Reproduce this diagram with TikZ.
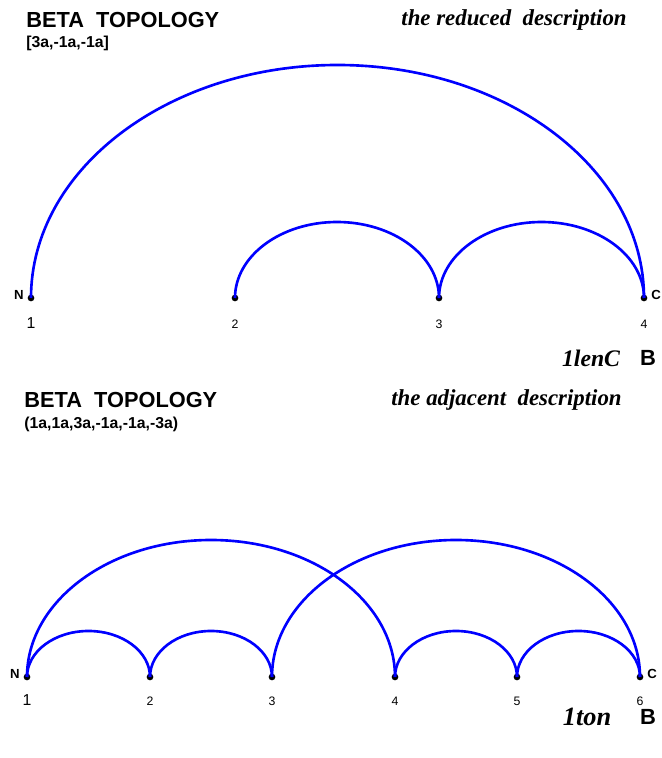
\documentclass[tikz,border=0pt]{standalone}
\usepackage{fontspec}
\setmainfont{Liberation Serif}
\setsansfont{Liberation Sans}
\usetikzlibrary{positioning}
\tikzset{
  res/.style={circle,fill=black,inner sep=0pt,minimum size=3.8pt},
  bond/.style={draw=blue,line width=1.5pt},
  term/.style={inner sep=0pt,font=\sffamily\bfseries\fontsize{7.5}{8}\selectfont},
  num/.style={inner sep=0pt,font=\sffamily\fontsize{7}{8}\selectfont},
  numone/.style={inner sep=0pt,font=\sffamily\fontsize{9}{10}\selectfont},
  title/.style={inner sep=0pt,anchor=west,font=\sffamily\bfseries\fontsize{12.4}{14}\selectfont},
  code/.style={inner sep=0pt,anchor=west,font=\sffamily\bfseries\fontsize{9}{10}\selectfont},
  desc/.style={inner sep=0pt,anchor=east,font=\rmfamily\bfseries\itshape\fontsize{13}{15}\selectfont},
  tag/.style={inner sep=0pt,font=\rmfamily\bfseries\itshape\fontsize{13.5}{15}\selectfont},
  cls/.style={inner sep=0pt,font=\sffamily\bfseries\fontsize{12.5}{14}\selectfont}
}
\begin{document}
\begin{tikzpicture}[x=0.02cm,y=0.02cm]
  \useasboundingbox (0,0) rectangle (662,758);

  \node[title] (t1) at (26,738) {BETA\ \ TOPOLOGY};
  \node[code] (s1) at (26,715) {[3a,-1a,-1a]};
  \node[desc] (d1) at (627,738) {the reduced\ \ description};

  \node[res] (a1) at (31,460) {};
  \node[res] (a2) at (235,460) {};
  \node[res] (a3) at (439,460) {};
  \node[res] (a4) at (644,460) {};

  \node[term, left=2.5pt of a1.north west] (an) {N};
  \node[term, right=2.5pt of a4.north east] (ac) {C};
  \node[numone, below=9pt of a1] (al1) {1};
  \node[num, below=10pt of a2] (al2) {2};
  \node[num, below=10pt of a3] (al3) {3};
  \node[num, below=10pt of a4] (al4) {4};

  \draw[bond] (a1.center) arc[start angle=180,end angle=0,x radius=306.5,y radius=233];
  \draw[bond] (a2.center) arc[start angle=180,end angle=0,x radius=102,y radius=76];
  \draw[bond] (a3.center) arc[start angle=180,end angle=0,x radius=102.5,y radius=76];

  \node[cls] (b1) at (648,400) {B};
  \node[tag, left=11pt of b1] (n1) {1lenC};

  \node[title] (t2) at (24,358) {BETA\ \ TOPOLOGY};
  \node[code] (s2) at (24,334) {(1a,1a,3a,-1a,-1a,-3a)};
  \node[desc] (d2) at (622,358) {the adjacent\ \ description};

  \node[res] (b1p) at (27,81) {};
  \node[res] (b2p) at (150,81) {};
  \node[res] (b3p) at (272,81) {};
  \node[res] (b4p) at (395,81) {};
  \node[res] (b5p) at (517,81) {};
  \node[res] (b6p) at (640,81) {};

  \node[term, left=2.5pt of b1p.north west] (bn) {N};
  \node[term, right=2.5pt of b6p.north east] (bc) {C};
  \node[numone, below=8pt of b1p] (bl1) {1};
  \node[num, below=9pt of b2p] (bl2) {2};
  \node[num, below=9pt of b3p] (bl3) {3};
  \node[num, below=9pt of b4p] (bl4) {4};
  \node[num, below=9pt of b5p] (bl5) {5};
  \node[num, below=9pt of b6p] (bl6) {6};

  \draw[bond] (b1p.center) arc[start angle=180,end angle=0,x radius=184,y radius=137];
  \draw[bond] (b3p.center) arc[start angle=180,end angle=0,x radius=184,y radius=137];
  \draw[bond] (b1p.center) arc[start angle=180,end angle=0,x radius=61.5,y radius=46];
  \draw[bond] (b2p.center) arc[start angle=180,end angle=0,x radius=61,y radius=46];
  \draw[bond] (b4p.center) arc[start angle=180,end angle=0,x radius=61,y radius=46];
  \draw[bond] (b5p.center) arc[start angle=180,end angle=0,x radius=61.5,y radius=46];

  \node[cls] (b2) at (648,41) {B};
  \node[tag, left=16pt of b2, font=\rmfamily\bfseries\itshape\fontsize{15}{17}\selectfont] (n2) {1ton};
\end{tikzpicture}
\end{document}
